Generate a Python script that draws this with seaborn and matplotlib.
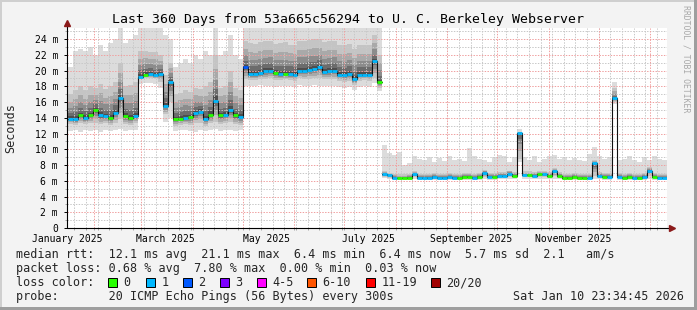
import numpy as np
import pandas as pd
import matplotlib
matplotlib.use("Agg")
import matplotlib.pyplot as plt
import seaborn as sns
from matplotlib.patches import Rectangle

# ---------------- data ----------------
title = "Last 360 Days from 53a665c56294 to U. C. Berkeley Webserver"
end_time = "2026-01-10 23:34:45"
span_days = 360
step_days = 3
gap_before_sample = 63   # the median line is not connected across this outage

median_ms = [
    13.9, 13.8, 14.3, 14.0, 14.3, 15.0, 14.3, 14.2, 14.0, 14.6, 16.5, 14.2, 14.0, 14.2,
    19.2, 19.5, 19.6, 19.4, 19.6, 15.5, 18.6,
    13.8, 13.9, 14.0, 14.1, 14.6, 14.8, 13.8, 14.4, 16.2, 14.3, 14.4, 15.0, 14.3, 14.1,
    20.4, 19.6, 19.6, 19.7, 19.9, 20.0, 19.7, 19.6, 19.6, 19.6, 19.5, 20.0, 20.0, 20.1,
    20.2, 20.4, 19.8, 19.9, 20.0, 19.5, 19.4, 19.6, 18.9, 19.5, 19.5, 19.5, 21.2, 18.5,
    6.8, 6.7, 6.4, 6.3, 6.3, 6.4, 6.8, 6.4, 6.4, 6.4,
    6.5, 6.4, 6.4, 6.5, 6.4, 6.4, 6.5, 6.5, 6.4, 6.5,
    7.0, 6.5, 6.5, 6.6, 6.6, 6.9, 6.6, 12.1, 6.7, 6.7,
    6.6, 6.8, 6.8, 6.6, 7.2, 6.6, 6.4, 6.4, 6.5, 6.4,
    6.4, 6.4, 8.2, 6.6, 6.5, 6.5, 16.5, 6.5, 6.4, 6.5,
    6.4, 6.4, 6.5, 7.3, 6.5, 6.4, 6.4,
]
# index into loss_labels for every sample
loss_level = [
    1, 1, 0, 1, 0, 0, 1, 1, 0, 1, 1, 0, 0, 1,
    1, 0, 1, 1, 1, 1, 1,
    0, 0, 1, 0, 1, 1, 1, 0, 1, 0, 1, 1, 0, 1,
    2, 1, 1, 1, 1, 1, 0, 1, 0, 1, 1, 1, 1, 1,
    1, 1, 1, 1, 1, 1, 1, 1, 1, 1, 1, 1, 1, 0,
    1, 1, 1, 0, 0, 0, 1, 1, 1, 1,
    1, 1, 1, 1, 1, 0, 0, 0, 1, 0,
    1, 1, 0, 1, 1, 1, 0, 1, 1, 0,
    1, 0, 1, 0, 1, 0, 0, 0, 0, 0,
    0, 1, 1, 1, 0, 1, 1, 1, 0, 0,
    1, 0, 1, 1, 0, 1, 1,
]
smoke_min = [
    12.3, 12.4, 12.2, 12.5, 12.3, 12.4, 12.2, 12.5, 12.3, 12.4, 12.6, 12.3, 12.4, 12.5,
    18.3, 18.4, 18.4, 18.3, 17.8, 13.5, 14.0,
    12.3, 12.4, 12.5, 12.3, 12.2, 12.4, 12.3, 12.5, 12.6, 12.3, 12.4, 12.5, 12.3, 12.4,
    18.0, 18.1, 18.0, 18.2, 18.0, 18.1, 17.9, 18.0, 18.1, 18.0, 17.9, 18.2, 18.1, 18.0,
    18.2, 18.1, 18.0, 18.0, 18.1, 17.9, 17.8, 17.9, 17.5, 17.9, 18.0, 17.9, 18.4, 17.4,
    6.3, 6.2, 6.1, 6.1, 6.1, 6.1, 6.2, 6.1, 6.1, 6.1,
    6.1, 6.1, 6.1, 6.1, 6.1, 6.1, 6.1, 6.1, 6.1, 6.1,
    6.2, 6.1, 6.1, 6.2, 6.2, 6.2, 6.2, 8.4, 6.2, 6.2,
    6.2, 6.2, 6.2, 6.2, 6.2, 6.2, 6.1, 6.1, 6.1, 6.1,
    6.1, 6.1, 6.2, 6.2, 6.1, 6.1, 15.8, 6.1, 6.1, 6.1,
    6.1, 6.1, 6.1, 6.2, 6.1, 6.1, 6.1,
]
smoke_low = [
    13.2, 13.1, 13.3, 13.2, 13.3, 13.4, 13.2, 13.3, 13.1, 13.4, 13.8, 13.2, 13.1, 13.3,
    18.9, 19.0, 19.0, 19.0, 18.6, 14.5, 16.0,
    13.0, 13.1, 13.2, 13.1, 13.3, 13.4, 13.0, 13.3, 13.5, 13.2, 13.3, 13.5, 13.2, 13.1,
    18.9, 18.8, 18.8, 18.9, 18.9, 19.0, 18.8, 18.8, 18.9, 18.8, 18.7, 19.0, 18.9, 18.9,
    19.0, 19.0, 18.9, 18.9, 18.9, 18.7, 18.6, 18.7, 18.2, 18.7, 18.8, 18.7, 19.0, 17.8,
    6.5, 6.4, 6.2, 6.2, 6.2, 6.3, 6.5, 6.3, 6.3, 6.3,
    6.3, 6.3, 6.3, 6.3, 6.3, 6.3, 6.3, 6.3, 6.3, 6.3,
    6.5, 6.4, 6.4, 6.4, 6.4, 6.5, 6.4, 8.8, 6.5, 6.5,
    6.4, 6.5, 6.5, 6.4, 6.6, 6.4, 6.3, 6.3, 6.3, 6.3,
    6.3, 6.3, 6.6, 6.4, 6.3, 6.3, 16.0, 6.3, 6.3, 6.3,
    6.3, 6.3, 6.3, 6.6, 6.3, 6.3, 6.3,
]
smoke_high = [
    17.0, 17.5, 18.0, 17.5, 18.0, 17.8, 18.3, 17.6, 18.0, 18.5, 21.0, 18.0, 18.2, 18.5,
    22.5, 22.5, 22.3, 22.3, 22.0, 19.5, 21.0,
    17.0, 17.2, 17.5, 17.3, 17.8, 17.6, 18.0, 18.5, 22.0, 17.8, 18.0, 20.0, 17.8, 17.5,
    23.8, 23.5, 23.4, 23.6, 23.8, 23.7, 23.4, 23.5, 23.6, 23.3, 23.2, 23.8, 23.7, 23.9,
    24.0, 24.0, 23.6, 23.7, 23.8, 23.3, 23.2, 23.4, 22.8, 23.2, 23.3, 23.2, 24.5, 22.0,
    7.2, 7.0, 6.8, 6.8, 6.8, 6.9, 7.2, 6.9, 6.9, 6.9,
    7.0, 6.9, 6.9, 7.0, 6.9, 6.9, 7.0, 7.0, 6.9, 7.0,
    7.4, 7.0, 7.0, 7.1, 7.1, 7.3, 7.1, 12.2, 7.2, 7.2,
    7.1, 7.3, 7.3, 7.1, 7.6, 7.1, 6.9, 6.9, 7.0, 6.9,
    6.9, 6.9, 8.6, 7.1, 7.0, 7.0, 17.8, 7.0, 6.9, 7.0,
    6.9, 6.9, 7.0, 7.7, 7.0, 6.9, 6.9,
]
smoke_max = [
    20.5, 22.5, 22.8, 22.5, 23.0, 22.0, 23.2, 22.5, 23.5, 24.0, 25.5, 23.5, 24.0, 24.5,
    26.0, 26.0, 26.0, 26.0, 26.0, 24.5, 24.0,
    20.5, 21.0, 21.5, 21.0, 22.0, 21.5, 22.5, 22.0, 25.5, 22.0, 22.5, 24.5, 22.0, 21.5,
    26.0, 26.0, 26.0, 26.0, 26.0, 26.0, 26.0, 26.0, 26.0, 26.0, 26.0, 26.0, 26.0, 26.0,
    26.0, 26.0, 26.0, 26.0, 26.0, 26.0, 26.0, 26.0, 26.0, 26.0, 26.0, 26.0, 26.0, 25.5,
    10.5, 9.5, 9.3, 9.6, 8.0, 8.2, 9.1, 8.8, 8.7, 9.0,
    8.4, 8.9, 8.5, 9.2, 8.6, 8.8, 8.5, 10.2, 9.1, 8.8,
    8.6, 8.4, 9.0, 9.3, 9.2, 8.4, 9.0, 12.6, 9.0, 8.6,
    9.2, 8.4, 8.8, 9.1, 9.3, 8.8, 9.0, 8.6, 8.9, 8.7,
    8.5, 9.4, 10.3, 9.2, 8.8, 9.0, 18.6, 8.6, 8.8, 9.2,
    8.6, 8.4, 9.0, 8.6, 9.1, 8.8, 8.6,
]

loss_labels = ["0", "1", "2", "3", "4-5", "6-10", "11-19", "20/20"]
loss_colors = ["#26ff00", "#00b8ff", "#0059ff", "#7e00ff", "#ff00ff", "#ff5500", "#ff0000", "#a10000"]

y_ticks = list(range(0, 25, 2))
x_label_months = ["2025-01", "2025-03", "2025-05", "2025-07", "2025-09", "2025-11"]

stat_rtt = ["12.1", "21.1", "6.4", "6.4", "5.7", "2.1"]
stat_loss = ["0.68", "7.80", "0.00", "0.03"]
probe_text = "20 ICMP Echo Pings (56 Bytes) every 300s"
date_text = "Sat Jan 10 23:34:45 2026"
watermark = "RRDTOOL / TOBI OETIKER"

# ---------------- figure ----------------
W, H = 697, 310
sns.set_style("white")
plt.rcParams["font.family"] = ["DejaVu Sans Mono", "DejaVu Sans"]

def fx(px):
    return px / W

def fy(py):
    return 1 - py / H

BG = "#f3f3f3"
fig = plt.figure(figsize=(W / 100, H / 100), dpi=100, facecolor=BG)
ax = fig.add_axes([fx(67), fy(228), 600 / W, 200 / H])
ax.set_facecolor("white")
for s in ax.spines.values():
    s.set_visible(False)

end = pd.Timestamp(end_time)
start = end - pd.Timedelta(days=span_days)
day = lambda t: (pd.Timestamp(t) - start) / pd.Timedelta(days=1)

n = len(median_ms)
days = np.arange(n) * step_days
edges = np.append(days, days[-1] + step_days)
ext = lambda a: np.append(np.asarray(a, float), a[-1])

med = ext(median_ms)
lo, hi = ext(smoke_low), ext(smoke_high)
mn, mx = ext(smoke_min), ext(smoke_max)

# smoke
ax.fill_between(edges, mn, mx, step="post", color="#dcdcdc", lw=0, zorder=1)
shades = [(0.0, "#c4c4c4"), (0.3, "#a9a9a9"), (0.55, "#8c8c8c"), (0.75, "#6c6c6c"), (0.9, "#4e4e4e")]
for f, c in shades:
    ax.fill_between(edges, lo + (med - lo) * f, hi - (hi - med) * f,
                    step="post", color=c, lw=0, zorder=2)

# grid (drawn over the smoke like rrdtool)
ymax = 200 / 7.87
dots = (0, (1.4, 1.4))
for v in range(1, 26):
    if v % 2:
        ax.axhline(v, color="#c8c8c8", lw=0.72, ls=dots, zorder=3)
for v in range(2, 26, 2):
    ax.axhline(v, color="#f0a0a0", lw=0.72, ls=dots, zorder=3)
months = [day(t) for t in pd.date_range(start.normalize(), end, freq="MS") if day(t) > 0]
weeks = [day(t) for t in pd.date_range(start.normalize(), end, freq="W-MON") if day(t) > 0]
for d in weeks:
    ax.axvline(d, color="#c8c8c8", lw=0.72, ls=dots, zorder=3)
for d in months:
    ax.axvline(d, color="#f0a0a0", lw=0.72, ls=dots, zorder=3)

# median: black connecting step line (broken at the outage) + loss coloured pieces
g = gap_before_sample
for a, b in [(0, g), (g, n)]:
    xe = np.append(days[a:b], days[b - 1] + step_days)
    ye = ext(median_ms[a:b])
    sns.lineplot(x=xe, y=ye, drawstyle="steps-post", color="#101010", linewidth=0.8,
                 estimator=None, sort=False, ax=ax, zorder=5, legend=False)
ax.hlines(median_ms, days, days + step_days,
          colors=[loss_colors[k] for k in loss_level], lw=2.0, zorder=6)

ax.set_xlim(0, span_days)
ax.set_ylim(0, ymax)

# axes lines with arrows
ax.plot([0, 1.006], [0, 0], color="black", lw=0.8, transform=ax.transAxes, clip_on=False, zorder=7)
ax.plot([0, 0], [0, 1.02], color="black", lw=0.8, transform=ax.transAxes, clip_on=False, zorder=7)
ax.plot([1.008], [0], marker=">", ms=4.5, color="#8b1a1a", transform=ax.transAxes, clip_on=False, zorder=8)
ax.plot([0], [1.025], marker="^", ms=4.5, color="#8b1a1a", transform=ax.transAxes, clip_on=False, zorder=8)

# ticks
ax.set_yticks(y_ticks)
ax.set_yticklabels(["0" if v == 0 else f"{v} m" for v in y_ticks])
ax.set_yticks(range(1, 26, 2), minor=True)
ax.tick_params(axis="y", which="major", length=2.2, width=0.7, pad=4.2, labelsize=7, colors="black", left=True)
ax.tick_params(axis="y", which="minor", length=1.5, width=0.6, color="#999999", left=True)
lab_pos = [day(pd.Timestamp(m + "-15 12:00")) for m in x_label_months]
ax.set_xticks(lab_pos)
ax.set_xticklabels([pd.Timestamp(m + "-01").strftime("%B %Y") for m in x_label_months])
ax.set_xticks(months + weeks, minor=True)
ax.tick_params(axis="x", which="major", length=0, pad=4.0, labelsize=7, colors="black")
ax.tick_params(axis="x", which="minor", length=1.5, width=0.6, color="#999999", bottom=True)

# texts
fs = 8.5
fig.text(fx(348.5), fy(23.5), title, ha="center", va="baseline", fontsize=9.55, color="black")
fig.text(fx(11), fy(128), "Seconds", rotation=90, ha="center", va="center", fontsize=fs)
line1 = ("median rtt:  {} ms avg  {} ms max  {} ms min  {} ms now  {} ms sd  {}   am/s"
         .format(*stat_rtt))
line2 = "packet loss: {} % avg  {} % max  {} % min  {} % now".format(*stat_loss)
fig.text(fx(16), fy(258.3), line1, va="baseline", fontsize=fs)
fig.text(fx(16), fy(272.3), line2, va="baseline", fontsize=fs)
fig.text(fx(16), fy(286), "loss color:", va="baseline", fontsize=fs)
fig.text(fx(16), fy(299.7), "probe:       " + probe_text, va="baseline", fontsize=fs)
fig.text(fx(513), fy(299.7), date_text, va="baseline", fontsize=fs)

box_x = [108, 146, 183, 220, 257, 307, 366, 431]
for bx, lab, col in zip(box_x, loss_labels, loss_colors):
    fig.add_artist(Rectangle((fx(bx), fy(287)), 9 / W, 9 / H, transform=fig.transFigure,
                             facecolor=col, edgecolor="black", lw=0.7))
    fig.text(fx(bx + 15.5), fy(286), lab, va="baseline", fontsize=fs)

fig.text(fx(686), fy(59), watermark, rotation=270, ha="center", va="center",
         fontsize=5.9, color="#a8a8a8")

# 3d border
fig.add_artist(Rectangle((0, 1 - 2 / H), 1, 2 / H, transform=fig.transFigure, color="#cfcfcf", lw=0))
fig.add_artist(Rectangle((0, 0), 2 / W, 1, transform=fig.transFigure, color="#cfcfcf", lw=0))
fig.add_artist(Rectangle((0, 0), 1, 3 / H, transform=fig.transFigure, color="#9e9e9e", lw=0))
fig.add_artist(Rectangle((1 - 3 / W, 0), 3 / W, 1, transform=fig.transFigure, color="#9e9e9e", lw=0))

fig.savefig("out.png", dpi=100, facecolor=BG)
